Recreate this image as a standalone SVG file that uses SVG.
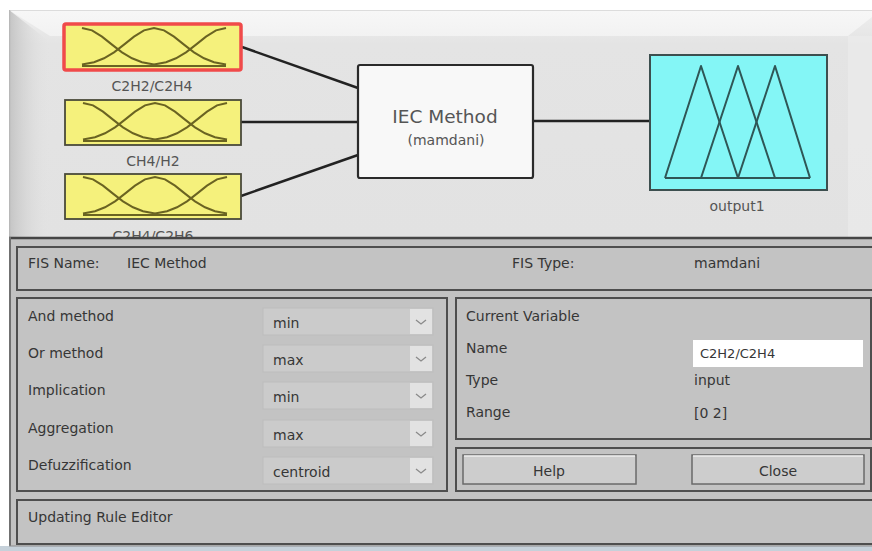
<svg xmlns="http://www.w3.org/2000/svg" xmlns:xlink="http://www.w3.org/1999/xlink" width="872" height="551" viewBox="0 0 872 551">
<style>
.t{font-family:"DejaVu Sans",sans-serif;font-size:14px;fill:#363636}
.nl{font-family:"DejaVu Sans",sans-serif;font-size:14px;fill:#555}
.box{fill:#c3c3c3;stroke:#4e4e4e;stroke-width:2}
.dd{fill:#cbcbcb;stroke:#bdbdbd;stroke-width:1}
.dda{fill:#e2e2e2}
.chev{fill:none;stroke:#8a8a8a;stroke-width:1.3}
.mf{fill:none;stroke:#6a6322;stroke-width:2}
.btn{fill:#cdcdcd;stroke:#6a6a6a;stroke-width:1.5}
.conn{stroke:#222;stroke-width:2.5;fill:none}
</style>
<defs>
<linearGradient id="gTop" x1="0" y1="0" x2="0" y2="1"><stop offset="0" stop-color="#f7f7f7"/><stop offset="1" stop-color="#f2f2f2"/></linearGradient>
<linearGradient id="gMain" x1="0" y1="0" x2="0" y2="1"><stop offset="0" stop-color="#eeeeee"/><stop offset="0.15" stop-color="#e4e4e4"/><stop offset="1" stop-color="#e2e2e2"/></linearGradient>
<linearGradient id="gLeft" x1="0" y1="0" x2="1" y2="0"><stop offset="0" stop-color="#c4c4c4"/><stop offset="1" stop-color="#e2e2e2" stop-opacity="0"/></linearGradient>
<clipPath id="upClip"><rect x="9" y="10" width="863" height="227"/></clipPath>
<g id="mf">
<polyline class="mf" points="18,4 28,6.4 38,12.6 48,20.6 58,28.3 68,34.3 78,38.2 90,40.6"/>
<polyline class="mf" points="18,40.6 30,38.2 40,34.3 50,28.3 60,20.6 70,12.6 80,6.4 90,4 100,6.4 110,12.6 120,20.6 130,28.3 140,34.3 150,38.2 162,40.6"/>
<polyline class="mf" points="90,40.6 102,38.2 112,34.3 122,28.3 132,20.6 142,12.6 152,6.4 162,4"/>
<line class="mf" x1="18" y1="42" x2="162" y2="42"/>
</g>
</defs>
<rect x="0" y="0" width="872" height="551" fill="#ffffff"/>
<!-- upper panel -->
<g clip-path="url(#upClip)">
<rect x="9" y="10" width="863" height="227" fill="url(#gMain)"/>
<polygon points="9,10 872,10 872,17 848,36 50,36" fill="url(#gTop)"/>
<polygon points="9,10 50,42 50,237 9,237" fill="url(#gLeft)"/>
<rect x="848" y="36" width="24" height="201" fill="#ececec" opacity="0.6"/>
<line x1="9" y1="10.5" x2="872" y2="10.5" stroke="#dcdcdc" stroke-width="1"/>
<line x1="9.5" y1="10" x2="9.5" y2="237" stroke="#b8b8b8" stroke-width="1.5"/>

<g id="connectors">
<line class="conn" x1="242" y1="47" x2="358" y2="88"/>
<line class="conn" x1="241" y1="122" x2="358" y2="122"/>
<line class="conn" x1="241" y1="196" x2="358" y2="155"/>
<line class="conn" x1="533" y1="121" x2="650" y2="121"/>
</g>

<g id="node-c2h2-c2h4">
<rect x="64" y="24" width="177" height="46" rx="2" fill="#f5f17c" stroke="#f04a4a" stroke-width="3.5"/>
<use xlink:href="#mf" href="#mf" x="64" y="24"/>
<text class="nl" x="152" y="91" text-anchor="middle">C2H2/C2H4</text>
</g>
<g id="node-ch4-h2">
<rect x="65" y="100" width="176" height="45" fill="#f5f17c" stroke="#4a4a3a" stroke-width="1.8"/>
<use xlink:href="#mf" href="#mf" x="65" y="99"/>
<text class="nl" x="153" y="166" text-anchor="middle">CH4/H2</text>
</g>
<g id="node-c2h4-c2h6">
<rect x="65" y="174" width="176" height="45" fill="#f5f17c" stroke="#4a4a3a" stroke-width="1.8"/>
<use xlink:href="#mf" href="#mf" x="65" y="173"/>
<text class="nl" x="153" y="241" text-anchor="middle">C2H4/C2H6</text>
</g>
<g id="node-iec">
<rect x="358" y="65" width="175" height="113" rx="2" fill="#f8f8f8" stroke="#2a2a2a" stroke-width="2.2"/>
<text x="445" y="123" text-anchor="middle" style="font-family:'DejaVu Sans',sans-serif;font-size:18.5px;fill:#555">IEC Method</text>
<text x="446" y="145" text-anchor="middle" style="font-family:'DejaVu Sans',sans-serif;font-size:14px;fill:#555">(mamdani)</text>
</g>
<g id="node-output1">
<rect x="650" y="55" width="177" height="135" fill="#84f6f6" stroke="#3d4f4f" stroke-width="2"/>
<g fill="none" stroke="#2f5656" stroke-width="2" stroke-linejoin="round">
<polyline points="665,178 701,66 738,178"/>
<polyline points="701,178 738,66 775,178"/>
<polyline points="738,178 775,66 810,178"/>
<line x1="665" y1="178" x2="810" y2="178"/>
</g>
<text class="nl" x="737" y="211" text-anchor="middle">output1</text>
</g>
</g>

<!-- lower panel -->
<rect x="9" y="237" width="863" height="310" fill="#c2c2c2"/>
<line x1="9" y1="238" x2="872" y2="238" stroke="#454545" stroke-width="2.5"/>
<line x1="10" y1="237" x2="10" y2="547" stroke="#707070" stroke-width="2"/>
<rect x="0" y="546" width="872" height="5" fill="#c6d1da"/>
<line x1="9" y1="546" x2="872" y2="546" stroke="#8c8c8c" stroke-width="1"/>

<g id="fis-row">
<rect class="box" x="17" y="247" width="856" height="43"/>
<text class="t" x="28" y="268">FIS Name:</text>
<text class="t" x="127" y="268">IEC Method</text>
<text class="t" x="512" y="268">FIS Type:</text>
<text class="t" x="694" y="268">mamdani</text>
</g>

<g id="methods-panel">
<rect class="box" x="17" y="298" width="430" height="193"/>
<text class="t" x="28" y="321">And method</text>
<text class="t" x="28" y="358">Or method</text>
<text class="t" x="28" y="395">Implication</text>
<text class="t" x="28" y="433">Aggregation</text>
<text class="t" x="28" y="470">Defuzzification</text>
<g>
<rect class="dd" x="263" y="308" width="170" height="27"/><rect class="dda" x="410" y="309" width="22" height="25"/><path class="chev" d="M416,320 l5,4 l5,-4"/>
<text class="t" x="273" y="328">min</text>
</g>
<g>
<rect class="dd" x="263" y="345" width="170" height="27"/><rect class="dda" x="410" y="346" width="22" height="25"/><path class="chev" d="M416,357 l5,4 l5,-4"/>
<text class="t" x="273" y="365">max</text>
</g>
<g>
<rect class="dd" x="263" y="382" width="170" height="27"/><rect class="dda" x="410" y="383" width="22" height="25"/><path class="chev" d="M416,394 l5,4 l5,-4"/>
<text class="t" x="273" y="402">min</text>
</g>
<g>
<rect class="dd" x="263" y="420" width="170" height="27"/><rect class="dda" x="410" y="421" width="22" height="25"/><path class="chev" d="M416,432 l5,4 l5,-4"/>
<text class="t" x="273" y="440">max</text>
</g>
<g>
<rect class="dd" x="263" y="457" width="170" height="27"/><rect class="dda" x="410" y="458" width="22" height="25"/><path class="chev" d="M416,469 l5,4 l5,-4"/>
<text class="t" x="273" y="477">centroid</text>
</g>
</g>

<g id="current-variable">
<rect class="box" x="456" y="298" width="415" height="141"/>
<text class="t" x="466" y="321">Current Variable</text>
<text class="t" x="466" y="353">Name</text>
<text class="t" x="466" y="385">Type</text>
<text class="t" x="466" y="417">Range</text>
<rect x="693" y="340" width="170" height="27" fill="#ffffff"/>
<text class="t" x="700" y="358" style="font-size:13px">C2H2/C2H4</text>
<text class="t" x="694" y="385">input</text>
<text class="t" x="694" y="418">[0 2]</text>
</g>

<g id="buttons">
<rect class="box" x="456" y="448" width="415" height="43"/>
<g id="btn-help">
<rect class="btn" x="463" y="455" width="173" height="29"/>
<line x1="464" y1="456" x2="635" y2="456" stroke="#eeeeee" stroke-width="1.5"/>
<text class="t" x="549" y="476" text-anchor="middle">Help</text>
</g>
<g id="btn-close">
<rect class="btn" x="692" y="455" width="172" height="29"/>
<line x1="693" y1="456" x2="863" y2="456" stroke="#eeeeee" stroke-width="1.5"/>
<text class="t" x="778" y="476" text-anchor="middle">Close</text>
</g>
</g>

<g id="status">
<rect class="box" x="17" y="500" width="856" height="44"/>
<text class="t" x="28" y="522">Updating Rule Editor</text>
</g>
</svg>
